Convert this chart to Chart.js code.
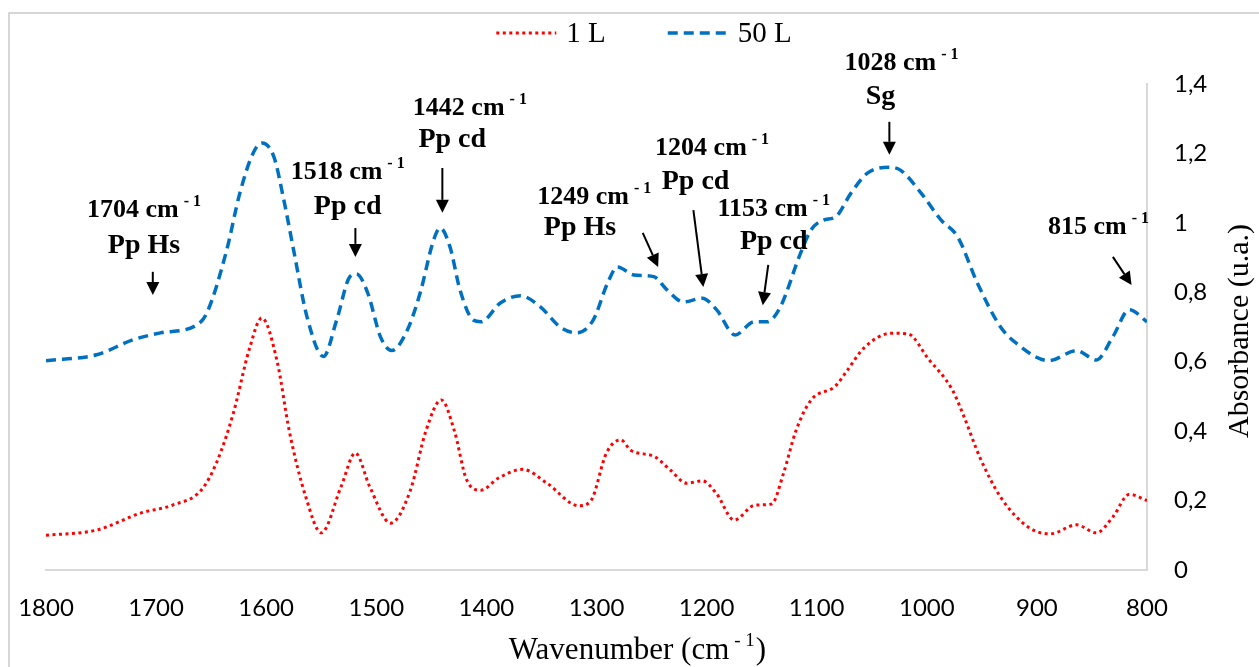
<!DOCTYPE html>
<html>
<head>
<meta charset="utf-8">
<script src="https://cdn.jsdelivr.net/npm/chart.js@4/dist/chart.umd.min.js"></script>
<style>
  html, body { margin: 0; padding: 0; background: #fff; }
  canvas { display: block; }
</style>
</head>
<body>
<canvas id="ftir" width="1259" height="667"></canvas>
<script>
// 1 L sample (red dotted)
const wn1L = [1800, 1754, 1714, 1685, 1659, 1645, 1630, 1615, 1604, 1590, 1579, 1564, 1550, 1532, 1519, 1506, 1487, 1469, 1455, 1441,
              1429, 1418, 1405, 1389, 1367, 1345, 1316, 1305, 1291, 1278, 1269, 1247, 1233, 1218, 1204, 1191, 1175, 1156, 1141, 1130,
              1119, 1105, 1083, 1072, 1057, 1032, 1017, 999, 977, 966, 952, 933, 908, 888, 864, 846, 831, 816, 800];
const abs1L = [0.10, 0.115, 0.164, 0.187, 0.23, 0.31, 0.45, 0.64, 0.726, 0.60, 0.40, 0.21, 0.107, 0.24, 0.337, 0.24, 0.135, 0.23, 0.40, 0.49,
               0.40, 0.26, 0.23, 0.265, 0.29, 0.25, 0.185, 0.20, 0.337, 0.375, 0.345, 0.326, 0.288, 0.25, 0.257, 0.22, 0.144, 0.187, 0.19, 0.28,
               0.40, 0.49, 0.53, 0.576, 0.64, 0.682, 0.68, 0.61, 0.52, 0.44, 0.326, 0.21, 0.124, 0.104, 0.13, 0.107, 0.153, 0.218, 0.20];

// 50 L sample (blue dashed)
const wn50L = [1800, 1754, 1721, 1696, 1663, 1654, 1636, 1624, 1612, 1604, 1593, 1584, 1575, 1563, 1548, 1536, 1524, 1518, 1508, 1496,
               1486, 1472, 1460, 1448, 1442, 1433, 1424, 1412, 1405, 1387, 1369, 1351, 1333, 1318, 1303, 1290, 1281, 1266, 1248, 1236,
               1221, 1204, 1191, 1174, 1157, 1145, 1133, 1115, 1105, 1094, 1083, 1069, 1054, 1034, 1024, 1005, 987, 972, 954, 933,
               919, 889, 864, 846, 831, 816, 800];
const abs50L = [0.603, 0.62, 0.663, 0.683, 0.706, 0.74, 0.92, 1.085, 1.20, 1.23, 1.19, 1.066, 0.92, 0.73, 0.615, 0.72, 0.845, 0.853, 0.80, 0.67,
                0.632, 0.69, 0.80, 0.95, 0.985, 0.93, 0.807, 0.72, 0.715, 0.77, 0.79, 0.758, 0.70, 0.683, 0.72, 0.826, 0.873, 0.85, 0.845, 0.807,
                0.772, 0.783, 0.75, 0.677, 0.715, 0.715, 0.758, 0.91, 0.98, 1.008, 1.017, 1.085, 1.143, 1.16, 1.152, 1.085, 1.008, 0.96, 0.826, 0.70,
                0.654, 0.603, 0.632, 0.605, 0.672, 0.75, 0.715];

const seriesNames = ['1 L', '50 L'];

// peak labels
const peakLabels = ['1704', '1518', '1442', '1249', '1204', '1153', '1028', '815'];
const peakGroups = ['Pp Hs', 'Pp cd', 'Pp cd', 'Pp Hs', 'Pp cd', 'Pp cd', 'Sg', ''];

// where the labels and arrows sit, in axis units (wavenumber, absorbance)
const labelSpots = [
  {tx: 1711, ty: 1.037, sx: 1711, sy: 0.933, arrow: [1703, 0.859, 1703, 0.792]},
  {tx: 1526, ty: 1.147, sx: 1526, sy: 1.046, arrow: [1519, 0.985, 1519, 0.902]},
  {tx: 1415, ty: 1.331, sx: 1431, sy: 1.239, arrow: [1440, 1.158, 1440, 1.029]},
  {tx: 1302, ty: 1.075, sx: 1315, sy: 0.985, arrow: [1258, 0.971, 1244, 0.873]},
  {tx: 1195, ty: 1.216, sx: 1210, sy: 1.118, arrow: [1212, 1.037, 1203, 0.815]},
  {tx: 1139, ty: 1.040, sx: 1139, sy: 0.945, arrow: [1144, 0.879, 1149, 0.763]},
  {tx: 1023, ty: 1.461, sx: 1042, sy: 1.363, arrow: [1034, 1.291, 1034, 1.196]},
  {tx: 844, ty: 0.988, sx: 844, sy: 0, arrow: [831, 0.902, 814, 0.821]}
];

function toPoints(xs, ys) {
  return xs.map(function(x, i) { return {x: x, y: ys[i]}; });
}

const serif = '"Liberation Serif", "DejaVu Serif", serif';

// text with a raised "- 1" after it, centred on cx
function drawWithSup(ctx, main, tail, cx, cy, size, weight) {
  ctx.font = weight + ' ' + size + 'px ' + serif;
  const w1 = ctx.measureText(main).width;
  const supSize = Math.round(size * 0.62);
  ctx.font = weight + ' ' + supSize + 'px ' + serif;
  const w2 = ctx.measureText('- 1').width;
  ctx.font = weight + ' ' + size + 'px ' + serif;
  const w3 = tail ? ctx.measureText(tail).width : 0;
  const gap = 5;
  let x = cx - (w1 + gap + w2 + w3) / 2;
  ctx.textAlign = 'left';
  ctx.textBaseline = 'middle';
  ctx.fillText(main, x, cy);
  ctx.font = weight + ' ' + supSize + 'px ' + serif;
  ctx.fillText('- 1', x + w1 + gap, cy - size * 0.32);
  if (tail) {
    ctx.font = weight + ' ' + size + 'px ' + serif;
    ctx.fillText(tail, x + w1 + gap + w2 + 1, cy);
  }
}

function drawArrow(ctx, x1, y1, x2, y2) {
  const ang = Math.atan2(y2 - y1, x2 - x1);
  const head = 13, half = 6.5;
  const bx = x2 - head * Math.cos(ang), by = y2 - head * Math.sin(ang);
  ctx.beginPath();
  ctx.moveTo(x1, y1);
  ctx.lineTo(bx, by);
  ctx.lineWidth = 2;
  ctx.strokeStyle = '#000';
  ctx.stroke();
  ctx.beginPath();
  ctx.moveTo(x2, y2);
  ctx.lineTo(bx + half * Math.sin(ang), by - half * Math.cos(ang));
  ctx.lineTo(bx - half * Math.sin(ang), by + half * Math.cos(ang));
  ctx.closePath();
  ctx.fillStyle = '#000';
  ctx.fill();
}

// background + outer frame
const framePlugin = {
  id: 'frame',
  beforeDraw: function(chart) {
    const ctx = chart.ctx;
    ctx.save();
    ctx.fillStyle = '#fff';
    ctx.fillRect(0, 0, chart.width, chart.height);
    ctx.strokeStyle = '#c9c9c9';
    ctx.lineWidth = 1.5;
    ctx.beginPath();
    ctx.moveTo(9, chart.height);
    ctx.lineTo(9, 13);
    ctx.lineTo(chart.width, 13);
    ctx.stroke();
    ctx.restore();
  }
};

// legend, axis titles and peak labels
const extrasPlugin = {
  id: 'extras',
  afterDraw: function(chart) {
    const ctx = chart.ctx;
    const xs = chart.scales.x, ys = chart.scales.y;
    ctx.save();
    ctx.fillStyle = '#000';

    // legend
    ctx.font = '29px ' + serif;
    const sample = 60, gapTxt = 10, gapItem = 62;
    const widths = chart.data.datasets.map(function(d) { return ctx.measureText(d.label).width; });
    let total = 0;
    widths.forEach(function(w) { total += sample + gapTxt + w; });
    total += gapItem * (widths.length - 1);
    let lx = 644 - total / 2;
    const ly = 33;
    chart.data.datasets.forEach(function(d, i) {
      ctx.beginPath();
      ctx.setLineDash(d.borderDash);
      ctx.strokeStyle = d.borderColor;
      ctx.lineWidth = d.borderWidth;
      ctx.moveTo(lx, ly);
      ctx.lineTo(lx + sample, ly);
      ctx.stroke();
      ctx.setLineDash([]);
      ctx.fillStyle = '#000';
      ctx.textAlign = 'left';
      ctx.textBaseline = 'middle';
      ctx.font = '29px ' + serif;
      ctx.fillText(d.label, lx + sample + gapTxt, ly + 1);
      lx += sample + gapTxt + widths[i] + gapItem;
    });

    // x title
    drawWithSup(ctx, 'Wavenumber (cm', ')', 637, 651, 31, 'normal');

    // y title
    ctx.save();
    ctx.translate(1240, 331);
    ctx.rotate(-Math.PI / 2);
    ctx.font = '30px ' + serif;
    ctx.textAlign = 'center';
    ctx.textBaseline = 'middle';
    ctx.fillText('Absorbance (u.a.)', 0, 0);
    ctx.restore();

    // peak labels with arrows
    peakLabels.forEach(function(lbl, i) {
      const s = labelSpots[i];
      drawWithSup(ctx, lbl + ' cm', '', xs.getPixelForValue(s.tx), ys.getPixelForValue(s.ty), 26, 'bold');
      if (peakGroups[i]) {
        ctx.font = 'bold 28px ' + serif;
        ctx.textAlign = 'center';
        ctx.textBaseline = 'middle';
        ctx.fillText(peakGroups[i], xs.getPixelForValue(s.sx), ys.getPixelForValue(s.sy));
      }
      const a = s.arrow;
      drawArrow(ctx, xs.getPixelForValue(a[0]), ys.getPixelForValue(a[1]),
                xs.getPixelForValue(a[2]), ys.getPixelForValue(a[3]));
    });
    ctx.restore();
  }
};

const chart = new Chart(document.getElementById('ftir'), {
  type: 'line',
  data: {
    datasets: [{
      label: seriesNames[0],
      data: toPoints(wn1L, abs1L),
      borderColor: '#ff0000',
      borderWidth: 3,
      borderDash: [3, 3.5],
      pointRadius: 0,
      fill: false,
      cubicInterpolationMode: 'monotone'
    }, {
      label: seriesNames[1],
      data: toPoints(wn50L, abs50L),
      borderColor: '#0070c0',
      borderWidth: 3.5,
      borderDash: [10, 6],
      pointRadius: 0,
      fill: false,
      cubicInterpolationMode: 'monotone'
    }]
  },
  options: {
    responsive: false,
    animation: false,
    layout: { padding: { left: 46, top: 84, right: 0, bottom: 0 } },
    plugins: {
      legend: { display: false },
      tooltip: { enabled: false }
    },
    scales: {
      x: {
        type: 'linear',
        reverse: true,
        min: 800,
        max: 1800,
        ticks: {
          stepSize: 100,
          padding: 24,
          color: '#000',
          maxRotation: 0,
          autoSkip: false,
          font: { family: 'Lato', size: 24 },
          callback: function(v) { return String(v); }
        },
        grid: { display: false, drawTicks: false },
        border: { display: true, color: '#d9d9d9', width: 2 },
        afterFit: function(scale) {
          scale.height = 97;
          scale.paddingLeft = 0;
          scale.paddingRight = 0;
        }
      },
      y: {
        position: 'right',
        min: 0,
        max: 1.4,
        ticks: {
          stepSize: 0.2,
          padding: 27,
          crossAlign: 'near',
          color: '#000',
          font: { family: 'Lato', size: 24 },
          callback: function(v) { return String(Number(v.toFixed(1))).replace('.', ','); }
        },
        grid: { display: false, drawTicks: false },
        border: { display: true, color: '#d9d9d9', width: 2 },
        afterFit: function(scale) {
          scale.width = 112;
          scale.paddingTop = 0;
          scale.paddingBottom = 0;
        }
      }
    }
  },
  plugins: [framePlugin, extrasPlugin]
});
</script>
</body>
</html>
